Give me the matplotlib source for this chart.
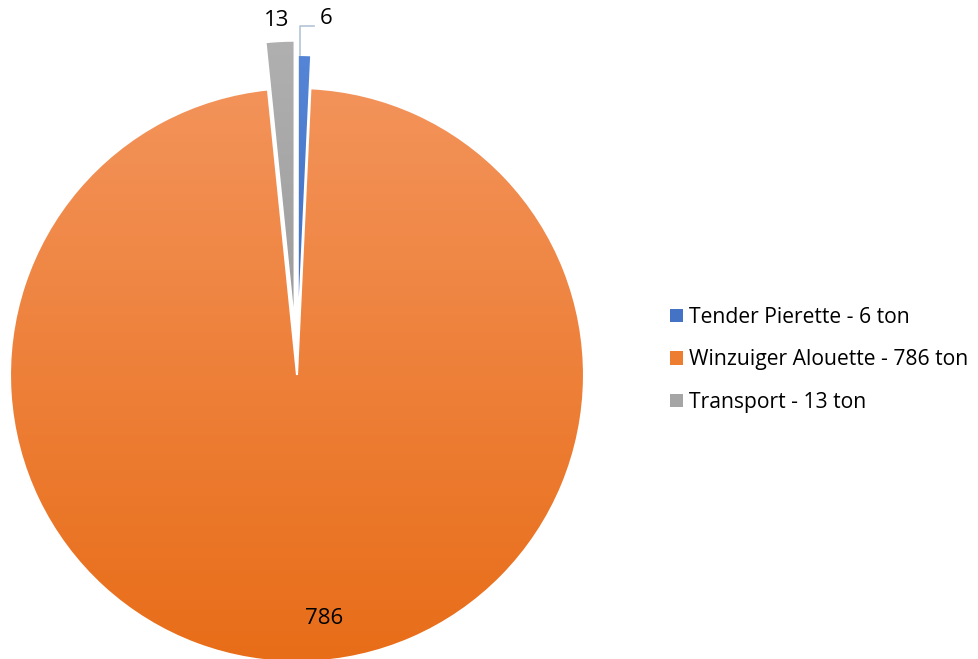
import numpy as np
import matplotlib.pyplot as plt
from matplotlib.patches import Patch
from matplotlib.colors import LinearSegmentedColormap

categories = ['Tender Pierette', 'Winzuiger Alouette', 'Transport']
values = [6, 786, 13]
unit = 'ton'
explode = [0.115, 0.0, 0.165]
# top / bottom colours of the gradient fill
top_colors = ['#5585D6', '#F3935A', '#B0B0B0']
bottom_colors = ['#3F6DC0', '#E86D18', '#9C9C9C']
legend_colors = ['#4472C4', '#ED7D31', '#A5A5A5']

W, H = 979, 659
cx, cy, R = 297, 375, 287  # pie centre and radius in pixels

fig = plt.figure(figsize=(W / 100, H / 100), dpi=100)
ax = fig.add_axes([0, 0, 1, 1])

wedges, _ = ax.pie(values, explode=explode, startangle=90, counterclock=False,
                   radius=1.0, center=(0, 0), frame=True,
                   colors=legend_colors,
                   wedgeprops=dict(edgecolor='white', linewidth=1.5))
ax.set_aspect('auto')
ax.axis('off')

# gradient fill clipped to each wedge
grad = np.linspace(0, 1, 256).reshape(-1, 1)
for w, c0, c1 in zip(wedges, top_colors, bottom_colors):
    cmap = LinearSegmentedColormap.from_list('g', [c0, c1])
    bb = w.get_path().get_extents(w.get_transform() + ax.transData.inverted())
    img = ax.imshow(grad, cmap=cmap, aspect='auto', origin='upper',
                    extent=[bb.x0, bb.x1, bb.y0, bb.y1], zorder=w.get_zorder() + 0.1)
    img.set_clip_path(w)
    w.set_facecolor('none')
    w.set_zorder(w.get_zorder() + 0.2)

ax.set_xlim(-cx / R, (W - cx) / R)
ax.set_ylim((cy - H) / R, cy / R)


def px(x, y):
    return (x - cx) / R, (cy - y) / R


fam = ['Open Sans', 'DejaVu Sans']
lab_fs = 16
leg_fs = 15.2

# data labels
x, y = px(277, 21)
ax.text(x, y, str(values[2]), ha='center', va='center', fontsize=lab_fs, family=fam, zorder=5)
x, y = px(326, 19)
ax.text(x, y, str(values[0]), ha='center', va='center', fontsize=lab_fs, family=fam, zorder=5)
x0, y0 = px(300, 55)
x1, y1 = px(300, 26)
x2, y2 = px(314, 26)
ax.plot([x0, x1, x2], [y0, y1, y2], color='#B4C4D6', lw=1.2, zorder=5)
x, y = px(324, 618)
ax.text(x, y, str(values[1]), ha='center', va='center', fontsize=lab_fs, family=fam, zorder=5)

handles = [Patch(facecolor=c, edgecolor='none') for c in legend_colors]
labels = [f'{c} - {v} {unit}' for c, v in zip(categories, values)]
fig.legend(handles, labels, loc='center left', bbox_to_anchor=(664 / W, 1 - 360 / H),
           frameon=False, prop={'family': fam, 'size': leg_fs},
           handlelength=0.58, handleheight=0.58, handletextpad=0.3,
           labelspacing=1.02, borderaxespad=0, borderpad=0.3)

fig.savefig('out.png', dpi=100)
